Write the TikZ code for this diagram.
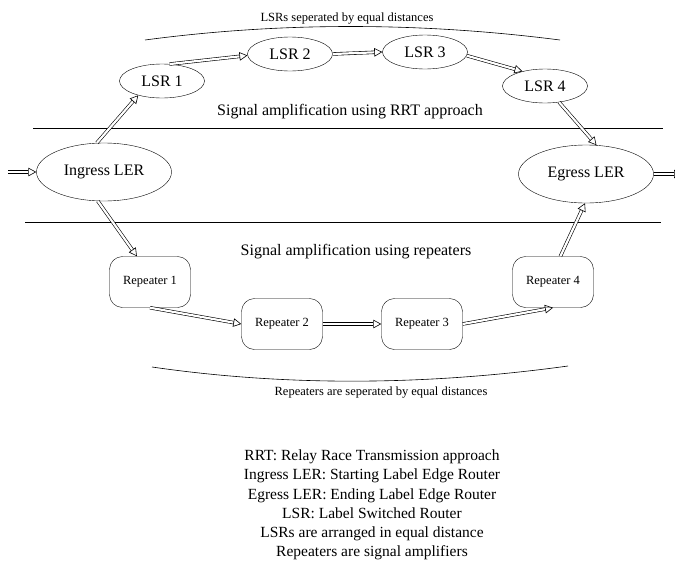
\documentclass[tikz,border=0pt]{standalone}
\usepackage{fontspec}
\setmainfont{Liberation Serif}
\newfontfamily\labelfont{Liberation Serif}
\usetikzlibrary{arrows.meta,shapes.geometric}

\begin{document}
\begin{tikzpicture}[x=1pt, y=-1pt, >={Triangle[open,length=8pt,width=8.5pt,line width=0.6pt]}]
\tikzstyle{every node}=[inner sep=0pt];
\tikzstyle{router}=[draw, ellipse, minimum width=85pt, minimum height=34pt, font=\labelfont\fontsize{16}{18}\selectfont];
\tikzstyle{ler}=[router, minimum width=135pt, minimum height=58pt];
\tikzstyle{repeater}=[draw, rounded corners=13pt, minimum width=81pt, minimum height=51pt, font=\labelfont\fontsize{12.5}{14}\selectfont];
\tikzstyle{note}=[font=\labelfont\fontsize{12.5}{14}\selectfont];
\tikzstyle{title}=[font=\labelfont\fontsize{16}{18}\selectfont];
\tikzstyle{legend}=[align=center, font=\labelfont\fontsize{15.5}{19.3}\selectfont];
\tikzstyle{link}=[draw, double, double distance=2.2pt, line width=0.6pt, ->];
\useasboundingbox (0,0) rectangle (675,560);
% routers on the RRT path
\path (104,172) node[ler] (ingress) {Ingress LER};
\path (586,174) node[ler] (egress) {Egress LER};
\path (162,81) node[router] (lsr1) {LSR 1};
\path (290,54) node[router] (lsr2) {LSR 2};
\path (425,52) node[router] (lsr3) {LSR 3};
\path (545,86) node[router] (lsr4) {LSR 4};
% repeaters
\path (150,282) node[repeater] (rep1) {Repeater 1};
\path (282,324) node[repeater] (rep2) {Repeater 2};
\path (422,324) node[repeater] (rep3) {Repeater 3};
\path (553,282) node[repeater] (rep4) {Repeater 4};
% texts
\path (347,19) node[note] (toplabel) {LSRs seperated by equal distances};
\path (350,112) node[title] (rrt) {Signal amplification using RRT approach};
\path (356,252) node[title] (amp) {Signal amplification using repeaters};
\path (381,393) node[note] (botlabel) {Repeaters are seperated by equal distances};
\path (372,505) node[legend] (key) {RRT: Relay Race Transmission approach\\
  Ingress LER: Starting Label Edge Router\\
  Egress LER: Ending Label Edge Router\\
  LSR: Label Switched Router\\
  LSRs are arranged in equal distance\\
  Repeaters are signal amplifiers};
% separators
\draw[line width=0.6pt] (33,128) -- (663,128);
\draw[line width=0.6pt] (25,222) -- (661,222);
\draw[line width=0.6pt] (145,40) .. controls (280,22) and (420,22) .. (560,40);
\draw[line width=0.6pt] (152,367) .. controls (290,387) and (430,385) .. (568,366);
% links
\coordinate (in) at (8,172);
\coordinate (out) at (682,174);
\path (in) edge[link] (ingress.west);
\path (egress.east) edge[link] (out);
\path (ingress.104) edge[link] (lsr1.211);
\path (lsr1.66) edge[link] (lsr2.182);
\path (lsr2.east) edge[link] (lsr3.west);
\path (lsr3.355) edge[link] (lsr4.147);
\path (lsr4.311) edge[link] (egress.70);
\path (ingress.258) edge[link] (rep1.117);
\path (rep1.south) edge[link] (rep2.west);
\path (rep2.east) edge[link] (rep3.west);
\path (rep3.east) edge[link] (rep4.south);
\path (rep4.74) edge[link] (egress.268);
\end{tikzpicture}
\end{document}
